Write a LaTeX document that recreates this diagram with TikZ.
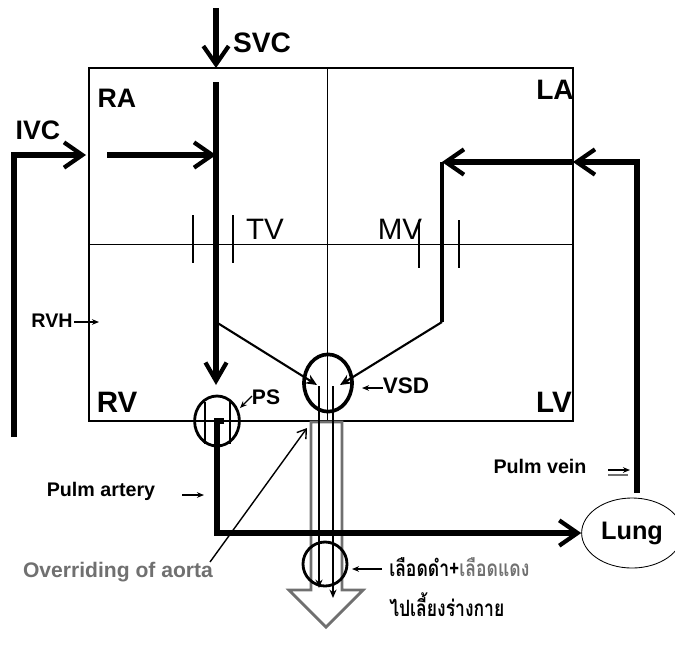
\documentclass[tikz,border=0pt]{standalone}
\usepackage{fontspec}
\setmainfont{Liberation Sans}
\newfontfamily\thaifont[Script=Thai, FakeStretch=0.78]{Loma}
\usepackage{xcolor}
\usetikzlibrary{arrows.meta,positioning,shapes.geometric}

\definecolor{aortaGray}{RGB}{112,112,112}

\begin{document}
\begin{tikzpicture}[x=0.025cm, y=-0.025cm,
  chamber/.style={font=\bfseries\fontsize{20}{20}\selectfont, inner sep=0pt},
  tag/.style={font=\bfseries\fontsize{14}{14}\selectfont, inner sep=0pt},
  valveTag/.style={font=\fontsize{21}{21}\selectfont, inner sep=0pt},
  wall/.style={line width=1.4pt},
  septum/.style={line width=0.6pt},
  valve/.style={line width=1.1pt},
  flow/.style={line width=3.6pt, -{Straight Barb[length=13pt,width=18pt,line width=3pt]}},
  jet/.style={line width=1.5pt, -{Stealth[length=8pt,width=7pt]}},
  aorta/.style={line width=2pt, -{Stealth[length=6pt,width=5pt]}},
  pointer/.style={line width=0.9pt, -{Stealth[length=5pt,width=4pt]}},
  ring/.style={draw, ellipse, line width=2pt, inner sep=0pt}
]
  \useasboundingbox (0,0) rectangle (675,667);

  % heart chambers
  \draw[wall] (89,68) rectangle (573,421);
  \draw[septum] (327,68) -- (327,421);
  \draw[septum] (89,244) -- (573,244);

  % tricuspid and mitral valves
  \draw[valve] (193,215) -- (193,263);
  \draw[valve] (233,215) -- (233,263);
  \draw[valve] (419,220) -- (419,268);
  \draw[valve] (459,220) -- (459,268);

  % aorta (hollow arrow)
  \draw[line width=2pt, aortaGray] (311,422) -- (342,422) -- (342,590) -- (363,590)
    -- (326,627) -- (289,590) -- (311,590) -- cycle;

  % labels
  \node[chamber] (svc) at (262,43) {SVC};
  \node[chamber, font=\bfseries\fontsize{19}{19}\selectfont] (ra) at (117,98) {RA};
  \node[chamber, font=\bfseries\fontsize{20}{20}\selectfont] (la) at (555,90) {LA};
  \node[chamber, font=\bfseries\fontsize{19}{19}\selectfont] (ivc) at (38,130) {IVC};
  \node[chamber, font=\bfseries\fontsize{21}{21}\selectfont] (rv) at (117,402) {RV};
  \node[chamber, font=\bfseries\fontsize{21}{21}\selectfont] (lv) at (554,402) {LV};
  \node[valveTag] (tv) at (265,229) {TV};
  \node[valveTag] (mv) at (400,229) {MV};
  \node[tag, font=\bfseries\fontsize{15}{15}\selectfont] (psTag) at (266,397) {PS};
  \node[tag, font=\bfseries\fontsize{16}{16}\selectfont] (vsdTag) at (406,386) {VSD};
  \node[tag] (rvhTag) at (52,321) {RVH};
  \node[tag] (paTag) at (101,491) {Pulm artery};
  \node[tag] (pvTag) at (540,466) {Pulm vein};
  \node[tag, font=\bfseries\fontsize{15}{15}\selectfont, aortaGray] (overTag) at (118,572)
    {Overriding of aorta};
  \node[anchor=west, inner sep=0pt, font=\thaifont\bfseries\fontsize{16}{16}\selectfont]
    (mixTag) at (389,567) {เลือดดำ+\textcolor{aortaGray}{เลือดแดง}};
  \node[anchor=west, inner sep=0pt, font=\thaifont\bfseries\fontsize{16}{16}\selectfont]
    (bodyTag) at (389,605) {ไปเลี้ยงร่างกาย};

  % rings and lung
  \node[ring, line width=2.6pt, minimum width=1.2cm, minimum height=1.43cm] (vsd) at (328,383) {};
  \node[ring, minimum width=1.12cm, minimum height=1.25cm] (psRing) at (217,421) {};
  \node[ring, minimum width=1.1cm, minimum height=1.1cm] (mixRing) at (325,564) {};
  \node[draw, ellipse, line width=0.6pt, minimum width=2.1cm, minimum height=1.75cm,
        font=\bfseries\fontsize{18}{18}\selectfont] (lung) at (632,533) {Lung};

  % flow points
  \coordinate (svcTop) at (216,8);
  \coordinate (svcIn) at (216,68);
  \coordinate (raTop) at (216,82);
  \coordinate (raBend) at (216,322);
  \coordinate (psIn) at (216,385);
  \coordinate (ivcFoot) at (14,437);
  \coordinate (ivcIn) at (86,155);
  \coordinate (raFrom) at (107,155);
  \coordinate (raTo) at (216,155);
  \coordinate (veinFoot) at (637,493);
  \coordinate (laIn) at (573,162);
  \coordinate (laTurn) at (442,162);
  \coordinate (lvBend) at (442,322);
  \coordinate (vsdLeft) at (317,385);
  \coordinate (vsdRight) at (340,385);
  \coordinate (paCap) at (224,421);
  \coordinate (paCorner) at (217,533);
  \coordinate (aoLeftTop) at (319,386);
  \coordinate (aoLeftEnd) at (319,588);
  \coordinate (aoRightTop) at (333,386);
  \coordinate (aoRightEnd) at (333,598);

  % blood flow
  \draw[flow] (svcTop) -- (svcIn);
  \draw[flow] (ivcFoot) |- (ivcIn);
  \draw[flow] (raFrom) -- (raTo);
  \draw[line width=4pt] (raTop) -- (raBend);
  \draw[flow, -{Straight Barb[length=13pt,width=15pt,line width=3pt]}] (raBend) -- (psIn);
  \draw[flow] (veinFoot) |- (laIn);
  \draw[flow] (laIn) -- (laTurn);
  \draw[line width=3pt] (laTurn) -- (lvBend);
  \draw[jet] (raBend) -- (vsdLeft);
  \draw[jet] (lvBend) -- (vsdRight);
  \draw[line width=1.5pt] (205,402) -- (205,444);
  \draw[line width=1.5pt] (230,402) -- (230,444);
  \draw[flow] (paCap) -| (paCorner) -- (lung);
  \draw[aorta] (aoLeftTop) -- (aoLeftEnd);
  \draw[aorta] (aoRightTop) -- (aoRightEnd);

  % pointers
  \coordinate (rvhFrom) at (74,322);   \coordinate (rvhTo) at (99,322);
  \coordinate (paFrom) at (182,495);   \coordinate (paTo) at (204,495);
  \coordinate (psFrom) at (252,396);   \coordinate (psTo) at (240,408);
  \coordinate (vsdFrom) at (383,388);  \coordinate (vsdTo) at (362,388);
  \coordinate (mixFrom) at (382,569);  \coordinate (mixTo) at (352,569);
  \coordinate (pvFrom) at (608,470);   \coordinate (pvTo) at (630,470);
  \coordinate (ovFrom) at (210,562);   \coordinate (ovTo) at (307,428);
  \draw[pointer] (rvhFrom) -- (rvhTo);
  \draw[pointer] (paFrom) -- (paTo);
  \draw[pointer] (psFrom) -- (psTo);
  \draw[pointer] (vsdFrom) -- (vsdTo);
  \draw[pointer] (mixFrom) -- (mixTo);
  \draw[pointer] (pvFrom) -- (pvTo);
  \draw[line width=0.9pt, aortaGray] (608,475) -- (628,475);
  \draw[line width=1pt, -{Straight Barb[length=6pt,width=8pt]}] (ovFrom) -- (ovTo);
\end{tikzpicture}
\end{document}
